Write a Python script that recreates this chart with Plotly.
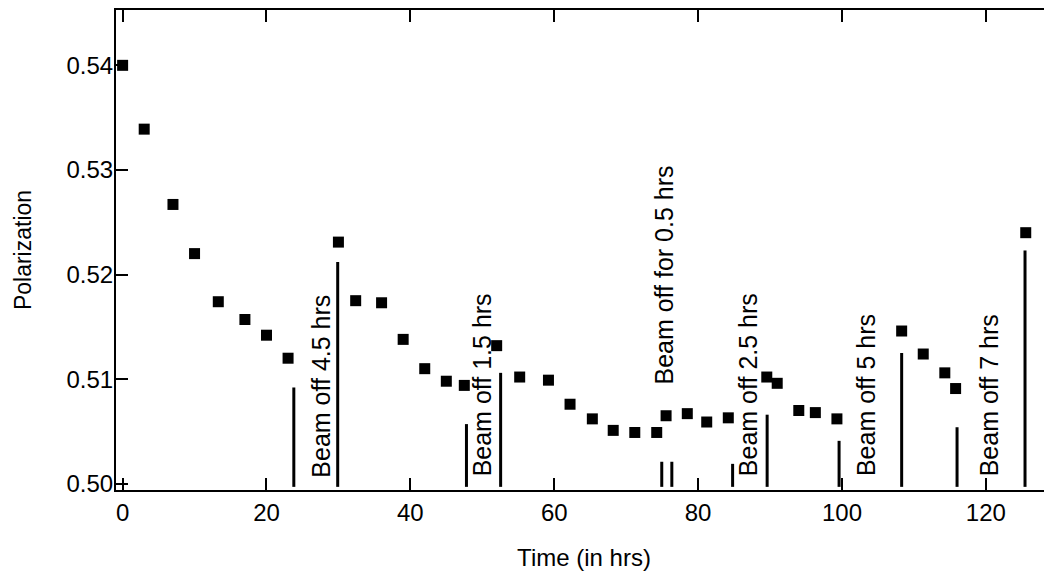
import plotly.graph_objects as go

# Data points (time in hrs, polarization)
time_hrs = [0.0, 3.0, 7.0, 10.0, 13.3, 17.0, 20.0, 23.0, 30.0, 32.4, 36.0, 39.0,
            42.0, 45.0, 47.5, 52.0, 55.2, 59.2, 62.2, 65.3, 68.2, 71.2, 74.25,
            75.55, 78.5, 81.2, 84.2, 89.55, 91.0, 94.0, 96.3, 99.3, 108.3, 111.3,
            114.3, 115.8, 125.55]
polarization = [0.5400, 0.5339, 0.5267, 0.5220, 0.5174, 0.5157, 0.5142, 0.5120,
                0.5231, 0.5175, 0.5173, 0.5138, 0.5110, 0.5098, 0.5094, 0.5132,
                0.5102, 0.5099, 0.5076, 0.5062, 0.5051, 0.5049, 0.5049, 0.5065,
                0.5067, 0.5059, 0.5063, 0.5102, 0.5096, 0.5070, 0.5068, 0.5062,
                0.5146, 0.5124, 0.5106, 0.5091, 0.5240]

# Beam-off marker lines
line_x = [23.8, 29.9, 47.8, 52.55, 74.95, 76.35, 84.8, 89.6, 99.6, 108.3, 116.0, 125.45]
line_top = [0.5092, 0.5212, 0.5057, 0.5106, 0.5021, 0.5021, 0.5019, 0.5066,
            0.5041, 0.5125, 0.5054, 0.5223]
line_bottom = 0.4997

# Annotations
ann_text = ["Beam off 4.5 hrs", "Beam off 1.5 hrs", "Beam off for 0.5 hrs",
            "Beam off 2.5 hrs", "Beam off 5 hrs", "Beam off 7 hrs"]
ann_x = [27.45, 49.9, 75.3, 86.85, 103.45, 120.45]
ann_y = [0.50035, 0.50052, 0.50927, 0.50052, 0.50052, 0.50052]

x_ticks = [0, 20, 40, 60, 80, 100, 120]
y_ticks = [0.50, 0.51, 0.52, 0.53, 0.54]

FONT = "Liberation Sans, Arial, Helvetica, sans-serif"

seg_x, seg_y = [], []
for xv, top in zip(line_x, line_top):
    seg_x += [xv, xv, None]
    seg_y += [line_bottom, top, None]

fig = go.Figure()
fig.add_trace(go.Scatter(x=seg_x, y=seg_y, mode="lines",
                         line=dict(color="black", width=3), showlegend=False,
                         hoverinfo="skip"))
fig.add_trace(go.Scatter(x=time_hrs, y=polarization, mode="markers",
                         marker=dict(symbol="square", size=11, color="black",
                                     line=dict(width=0)),
                         showlegend=False))
fig.add_trace(go.Scatter(x=[None], y=[None], yaxis="y2", showlegend=False))

for t, xv, yv in zip(ann_text, ann_x, ann_y):
    fig.add_annotation(x=xv, y=yv, text=t, textangle=-90, showarrow=False,
                       xanchor="center", yanchor="bottom",
                       font=dict(family=FONT, size=25, color="black"))

# The page body adds an 8px offset, so margins compensate for it.
fig.update_layout(
    template="none",
    width=1052, height=572,
    margin=dict(l=108, r=8, t=2, b=90),
    paper_bgcolor="white", plot_bgcolor="white",
    font=dict(family=FONT, size=24, color="black"),
    xaxis=dict(range=[-0.92, 129.2], tickvals=x_ticks, ticks="inside", ticklen=12,
               tickwidth=1.5, tickcolor="black", showline=True, linecolor="black",
               linewidth=2, mirror="ticks", showgrid=False, zeroline=False,
               automargin=False,
               title=dict(text="Time (in hrs)", standoff=24,
                          font=dict(family=FONT, size=24)),
               tickfont=dict(family=FONT, size=24)),
    yaxis=dict(range=[0.4994, 0.54529], tickvals=y_ticks, tickformat=".2f",
               ticks="inside", ticklen=12, tickwidth=1.5, tickcolor="black",
               showline=True, linecolor="black", linewidth=2, showgrid=False,
               zeroline=False, automargin=False, ticklabelstandoff=-4,
               title=dict(text="Polarization", standoff=28,
                          font=dict(family=FONT, size=23)),
               tickfont=dict(family=FONT, size=24)),
    yaxis2=dict(overlaying="y", side="right", anchor="x", matches="y",
                tickvals=y_ticks, ticks="inside", ticklen=3, tickwidth=1.5,
                tickcolor="black", showline=False, showgrid=False,
                zeroline=False, showticklabels=False, automargin=False),
)

fig.write_html("out.html")
